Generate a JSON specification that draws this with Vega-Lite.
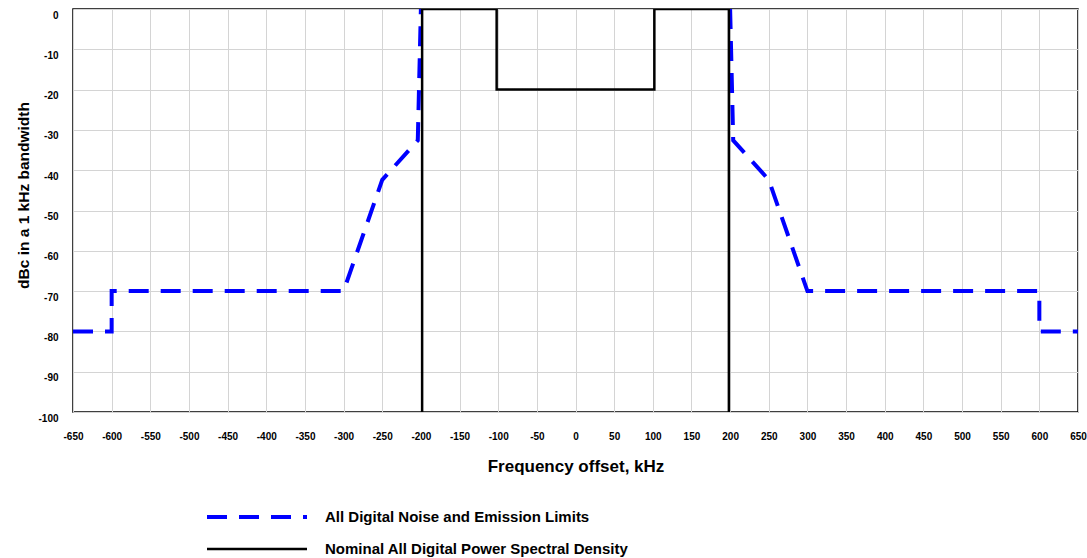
{
  "$schema": "https://vega.github.io/schema/vega-lite/v6.json",
  "autosize": {"type": "none"},
  "padding": {"left": 73, "top": 9, "right": 9, "bottom": 146},
  "width": 1005,
  "height": 403,
  "data": {
    "values": [
      {"series": "All Digital Noise and Emission Limits", "part": "limit-left", "order": 1, "freq": -650, "dbc": -80},
      {"series": "All Digital Noise and Emission Limits", "part": "limit-left", "order": 2, "freq": -600, "dbc": -80},
      {"series": "All Digital Noise and Emission Limits", "part": "limit-left", "order": 3, "freq": -600, "dbc": -70},
      {"series": "All Digital Noise and Emission Limits", "part": "limit-left", "order": 4, "freq": -300, "dbc": -70},
      {"series": "All Digital Noise and Emission Limits", "part": "limit-left", "order": 5, "freq": -250, "dbc": -42.4},
      {"series": "All Digital Noise and Emission Limits", "part": "limit-left", "order": 6, "freq": -204, "dbc": -32.6},
      {"series": "All Digital Noise and Emission Limits", "part": "limit-left", "order": 7, "freq": -200, "dbc": 0},
      {"series": "All Digital Noise and Emission Limits", "part": "limit-right", "order": 1, "freq": 200, "dbc": 0},
      {"series": "All Digital Noise and Emission Limits", "part": "limit-right", "order": 2, "freq": 204, "dbc": -32.6},
      {"series": "All Digital Noise and Emission Limits", "part": "limit-right", "order": 3, "freq": 250, "dbc": -42.4},
      {"series": "All Digital Noise and Emission Limits", "part": "limit-right", "order": 4, "freq": 300, "dbc": -70},
      {"series": "All Digital Noise and Emission Limits", "part": "limit-right", "order": 5, "freq": 600, "dbc": -70},
      {"series": "All Digital Noise and Emission Limits", "part": "limit-right", "order": 6, "freq": 600, "dbc": -80},
      {"series": "All Digital Noise and Emission Limits", "part": "limit-right", "order": 7, "freq": 650, "dbc": -80},
      {"series": "Nominal All Digital Power Spectral Density", "part": "psd", "order": 1, "freq": -198.4, "dbc": -100},
      {"series": "Nominal All Digital Power Spectral Density", "part": "psd", "order": 2, "freq": -198.4, "dbc": 0},
      {"series": "Nominal All Digital Power Spectral Density", "part": "psd", "order": 3, "freq": -102, "dbc": 0},
      {"series": "Nominal All Digital Power Spectral Density", "part": "psd", "order": 4, "freq": -102, "dbc": -20},
      {"series": "Nominal All Digital Power Spectral Density", "part": "psd", "order": 5, "freq": 102, "dbc": -20},
      {"series": "Nominal All Digital Power Spectral Density", "part": "psd", "order": 6, "freq": 102, "dbc": 0},
      {"series": "Nominal All Digital Power Spectral Density", "part": "psd", "order": 7, "freq": 198.4, "dbc": 0},
      {"series": "Nominal All Digital Power Spectral Density", "part": "psd", "order": 8, "freq": 198.4, "dbc": -100}
    ]
  },
  "mark": {"type": "line", "clip": true},
  "encoding": {
    "x": {
      "field": "freq",
      "type": "quantitative",
      "scale": {"domain": [-650, 650], "nice": false, "zero": false},
      "axis": {
        "values": [-650, -600, -550, -500, -450, -400, -350, -300, -250, -200, -150, -100, -50, 0, 50, 100, 150, 200, 250, 300, 350, 400, 450, 500, 550, 600, 650],
        "labelExpr": "'' + datum.value",
        "title": "Frequency offset, kHz",
        "labelPadding": 19,
        "titlePadding": 17,
        "titleFontSize": 17
      }
    },
    "y": {
      "field": "dbc",
      "type": "quantitative",
      "scale": {"domain": [-100, 0], "nice": false},
      "axis": {
        "values": [-100, -90, -80, -70, -60, -50, -40, -30, -20, -10, 0],
        "labelExpr": "'' + datum.value",
        "title": "dBc in a 1 kHz bandwidth",
        "labelPadding": 15,
        "labelOffset": 6,
        "titlePadding": 6,
        "titleY": 186,
        "titleFontSize": 15.5
      }
    },
    "detail": {"field": "part"},
    "order": {"field": "order"},
    "color": {
      "field": "series",
      "type": "nominal",
      "scale": {
        "domain": ["All Digital Noise and Emission Limits", "Nominal All Digital Power Spectral Density"],
        "range": ["#0000ff", "#000000"]
      },
      "legend": {"title": null}
    },
    "strokeDash": {
      "field": "series",
      "type": "nominal",
      "scale": {
        "domain": ["All Digital Noise and Emission Limits", "Nominal All Digital Power Spectral Density"],
        "range": [[20, 12], [1, 0]]
      },
      "legend": {"title": null}
    },
    "strokeWidth": {
      "field": "series",
      "type": "nominal",
      "scale": {
        "domain": ["All Digital Noise and Emission Limits", "Nominal All Digital Power Spectral Density"],
        "range": [4, 2.5]
      },
      "legend": {"title": null}
    }
  },
  "config": {
    "font": "Liberation Sans",
    "view": {"stroke": "#000000", "strokeWidth": 1.5},
    "axis": {
      "domain": false,
      "ticks": false,
      "grid": true,
      "gridColor": "#d4d4d4",
      "gridWidth": 1,
      "labelFont": "Liberation Sans",
      "labelFontSize": 10,
      "labelFontWeight": "bold",
      "labelColor": "#000000",
      "labelFlush": false,
      "labelOverlap": false,
      "titleFont": "Liberation Sans",
      "titleFontWeight": "bold",
      "titleColor": "#000000"
    },
    "legend": {
      "orient": "none",
      "legendX": 132,
      "legendY": 500,
      "symbolType": "stroke",
      "symbolSize": 10000,
      "clipHeight": 16,
      "rowPadding": 16,
      "labelOffset": 16,
      "labelFont": "Liberation Sans",
      "labelFontSize": 15,
      "labelFontWeight": "bold",
      "labelColor": "#000000",
      "labelLimit": 600
    }
  }
}
